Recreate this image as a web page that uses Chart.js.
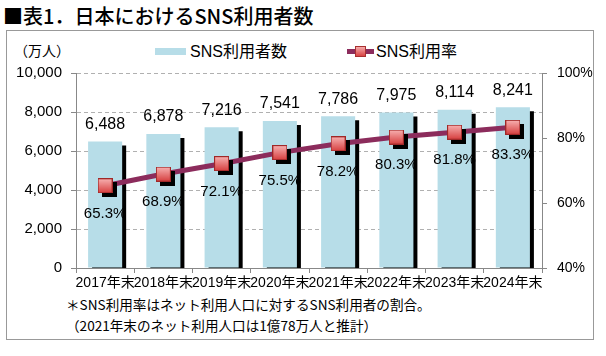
<!DOCTYPE html>
<html>
<head>
<meta charset="utf-8">
<script src="https://cdn.jsdelivr.net/npm/chart.js@4.4.1/dist/chart.umd.min.js"></script>
<style>
  html, body { margin:0; padding:0; background:#fff; }
  body { width:606px; height:356px; position:relative; overflow:hidden;
         font-family:'Liberation Sans','Noto Sans CJK JP',sans-serif; color:#000; }
  #frame { position:absolute; left:6px; top:30px; width:588px; height:310px; border:1px solid #999; box-sizing:border-box; }
  #title { position:absolute; left:3px; top:3px; font-size:20px; line-height:26px; font-family:'Noto Sans CJK JP',sans-serif; font-weight:500; white-space:nowrap; }
  #unit { position:absolute; left:14px; top:41px; font-size:14px; line-height:18px; font-family:'Noto Sans CJK JP',sans-serif; white-space:nowrap; }
  .leg { position:absolute; top:42px; font-size:16px; line-height:20px; white-space:nowrap; }
  .note { position:absolute; font-size:13.6px; line-height:16px; font-family:'Noto Sans CJK JP',sans-serif; white-space:nowrap; }
  canvas { position:absolute; left:0; top:0; }
</style>
</head>
<body>
<div id="frame"></div>
<div id="title">■表1．日本におけるSNS利用者数</div>
<div id="unit">（万人）</div>
<div class="leg" style="left:155px;">
  <span style="display:inline-block;width:31px;height:7px;background:#b7dde8;vertical-align:middle;margin-right:4px;position:relative;top:-1px;"></span>SNS利用者数
</div>
<div class="leg" style="left:347px;">
  <span style="display:inline-block;width:27px;height:11px;position:relative;vertical-align:middle;margin-right:2px;top:-1px;">
    <span style="position:absolute;left:0;top:3px;width:27px;height:5px;background:#8c2c5c;"></span>
    <span style="position:absolute;left:8px;top:0;width:9px;height:9px;border:1px solid #a83030;background:linear-gradient(#f6aaaa,#d84444);"></span>
  </span>SNS利用率
</div>
<div class="note" style="left:66px;top:296px;">＊SNS利用率はネット利用人口に対するSNS利用者の割合。</div>
<div class="note" style="left:66px;top:317px;">（2021年末のネット利用人口は1億78万人と推計）</div>
<canvas id="c" width="606" height="356"></canvas>
<script>
const categories = ['2017年末','2018年末','2019年末','2020年末','2021年末','2022年末','2023年末','2024年末'];
const users = [6488, 6878, 7216, 7541, 7786, 7975, 8114, 8241];
const rate = [65.3, 68.9, 72.1, 75.5, 78.2, 80.3, 81.8, 83.3];
const leftTicks = [0, 2000, 4000, 6000, 8000, 10000];
const rightTicks = [40, 60, 80, 100];

const FONT = "'Liberation Sans','Noto Sans CJK JP',sans-serif";

// marker image
const mk = document.createElement('canvas');
mk.width = 15; mk.height = 15;
(function(){
  const g = mk.getContext('2d');
  const gr = g.createLinearGradient(0,0,0,15);
  gr.addColorStop(0,'#f8b4b4');
  gr.addColorStop(1,'#d63c3c');
  g.fillStyle = gr;
  g.fillRect(0,0,15,15);
  g.strokeStyle = '#a02828';
  g.lineWidth = 1;
  g.strokeRect(0.5,0.5,14,14);
})();

const shadowPlugin = {
  id: 'shadowPlugin',
  beforeDatasetDraw(chart, args) {
    if (chart.data.datasets[args.index].dropShadow) {
      const c = chart.ctx;
      c.save();
      c.shadowColor = '#000';
      c.shadowOffsetX = 4;
      c.shadowOffsetY = 4;
      c.shadowBlur = 0;
    }
  },
  afterDatasetDraw(chart, args) {
    if (chart.data.datasets[args.index].dropShadow) chart.ctx.restore();
  }
};

const labelPlugin = {
  id: 'labelPlugin',
  afterDatasetsDraw(chart) {
    const c = chart.ctx;
    c.save();
    c.fillStyle = '#000';
    c.textAlign = 'center';
    c.textBaseline = 'middle';
    const barMeta = chart.getDatasetMeta(0);
    c.font = '16px ' + FONT;
    barMeta.data.forEach((el, i) => {
      c.fillText(users[i].toLocaleString('en-US'), el.x, el.y - 17);
    });
    const ptMeta = chart.getDatasetMeta(2);
    c.font = '15px ' + FONT;
    ptMeta.data.forEach((el, i) => {
      c.fillText(rate[i].toFixed(1) + '%', el.x, el.y + 28);
    });
    c.restore();
  }
};

new Chart(document.getElementById('c'), {
  data: {
    labels: categories,
    datasets: [
      { type:'bar', label:'SNS利用者数', data: users, yAxisID:'y',
        backgroundColor:'#b7dde8', borderWidth:0,
        categoryPercentage:1, barPercentage:0.585, order:3, dropShadow:true },
      { type:'line', label:'SNS利用率', data: rate, yAxisID:'y1',
        borderColor:'#8c2c5c', borderWidth:5, pointRadius:0, tension:0, order:2 },
      { type:'line', label:'SNS利用率 marker', data: rate, yAxisID:'y1',
        showLine:false, pointStyle: mk, pointRadius:8, order:1, dropShadow:true }
    ]
  },
  options: {
    responsive:false,
    devicePixelRatio:1,
    animation:false,
    layout: { padding: { top:73, left:0, right:0, bottom:0 } },
    plugins: { legend:{display:false}, tooltip:{enabled:false}, title:{display:false} },
    scales: {
      x: {
        grid: { offset:true, drawOnChartArea:false, tickLength:5, color:'#888' },
        border: { color:'#888', width:1 },
        ticks: { font:{ size:14, family:FONT }, color:'#000', padding:2, maxRotation:0, autoSkip:false },
        afterFit(s){ s.height = 88; }
      },
      y: {
        position:'left', min:0, max:10000,
        afterBuildTicks(s){ s.ticks = leftTicks.map(v => ({value:v})); },
        grid: { color:'#b0b0b0', tickLength:5, tickColor:'#888' },
        border: { color:'#888', width:1, dash:[4,3] },
        ticks: { font:{ size:15, family:FONT }, color:'#000', padding:9,
                 callback: v => v.toLocaleString('en-US') },
        afterFit(s){ s.width = 76; }
      },
      y1: {
        position:'right', min:40, max:100,
        afterBuildTicks(s){ s.ticks = rightTicks.map(v => ({value:v})); },
        grid: { drawOnChartArea:false, tickLength:5, color:'#888' },
        border: { color:'#888', width:1 },
        ticks: { font:{ size:14, family:FONT }, color:'#000', padding:10,
                 callback: v => v + '%' },
        afterFit(s){ s.width = 64; }
      }
    }
  },
  plugins: [shadowPlugin, labelPlugin]
});
</script>
</body>
</html>
